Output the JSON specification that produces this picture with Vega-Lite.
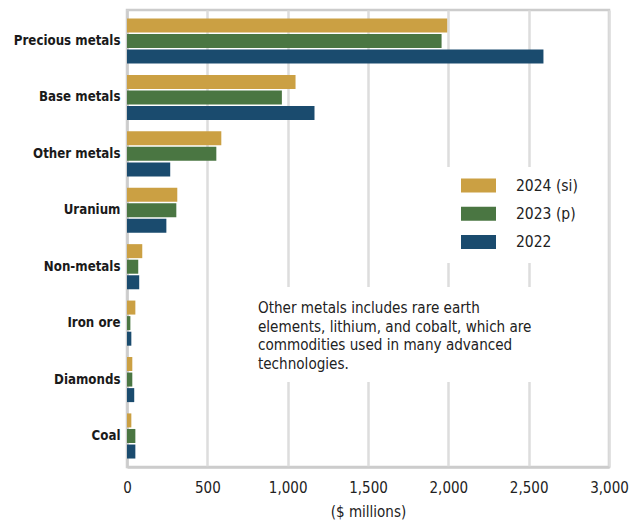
{
  "$schema": "https://vega.github.io/schema/vega-lite/v6.json",
  "width": 482,
  "height": 457,
  "autosize": {"type": "none"},
  "padding": {"left": 127, "top": 10, "right": 23, "bottom": 56},
  "background": "white",
  "config": {
    "view": {"stroke": "#cccccc", "strokeWidth": 2.5},
    "font": "DejaVu Sans Condensed, Roboto, sans-serif",
    "axis": {"gridColor": "#dddddd", "gridWidth": 2.5, "domainColor": "#cccccc", "domainWidth": 2.5, "ticks": false, "labelColor": "#222222", "titleColor": "#222222"}
  },
  "datasets": {
    "bars": [
      {"category": "Precious metals", "year": "2024 (si)", "value": 1993},
      {"category": "Precious metals", "year": "2023 (p)", "value": 1958},
      {"category": "Precious metals", "year": "2022", "value": 2592},
      {"category": "Base metals", "year": "2024 (si)", "value": 1049},
      {"category": "Base metals", "year": "2023 (p)", "value": 964},
      {"category": "Base metals", "year": "2022", "value": 1167},
      {"category": "Other metals", "year": "2024 (si)", "value": 587},
      {"category": "Other metals", "year": "2023 (p)", "value": 556},
      {"category": "Other metals", "year": "2022", "value": 269},
      {"category": "Uranium", "year": "2024 (si)", "value": 313},
      {"category": "Uranium", "year": "2023 (p)", "value": 307},
      {"category": "Uranium", "year": "2022", "value": 245},
      {"category": "Non-metals", "year": "2024 (si)", "value": 95},
      {"category": "Non-metals", "year": "2023 (p)", "value": 70},
      {"category": "Non-metals", "year": "2022", "value": 76},
      {"category": "Iron ore", "year": "2024 (si)", "value": 52},
      {"category": "Iron ore", "year": "2023 (p)", "value": 21},
      {"category": "Iron ore", "year": "2022", "value": 27},
      {"category": "Diamonds", "year": "2024 (si)", "value": 33},
      {"category": "Diamonds", "year": "2023 (p)", "value": 33},
      {"category": "Diamonds", "year": "2022", "value": 45},
      {"category": "Coal", "year": "2024 (si)", "value": 27},
      {"category": "Coal", "year": "2023 (p)", "value": 52},
      {"category": "Coal", "year": "2022", "value": 52}
    ],
    "note": [
      {"x": 815, "category": "Iron ore", "label": ["Other metals includes rare earth", "elements, lithium, and cobalt, which are", "commodities used in many advanced", "technologies."]}
    ],
    "box": [
      {"x1": 765, "x2": 2980, "top": "Non-metals", "bottom": "Diamonds"}
    ],
    "legendBox": [
      {"x1": 1975, "x2": 2980, "top": "Other metals", "bottom": "Non-metals"}
    ]
  },
  "layer": [
    {
      "data": {"name": "bars"},
      "mark": {"type": "bar"},
      "encoding": {
        "y": {
          "field": "category", "type": "nominal",
          "scale": {"domain": ["Precious metals", "Base metals", "Other metals", "Uranium", "Non-metals", "Iron ore", "Diamonds", "Coal"], "paddingInner": 0.2, "paddingOuter": 0.15},
          "axis": {"title": null, "labelFontWeight": "bold", "labelFontSize": 13.2, "labelPadding": 7, "labelColor": "#1a1a1a"}
        },
        "yOffset": {
          "field": "year", "type": "nominal",
          "scale": {"domain": ["2024 (si)", "2023 (p)", "2022"], "paddingInner": 0.1}
        },
        "x": {
          "field": "value", "type": "quantitative",
          "scale": {"domain": [0, 3000], "nice": false},
          "axis": {"title": "($ millions)", "values": [0, 500, 1000, 1500, 2000, 2500, 3000], "format": ",d", "labelFontSize": 15, "labelPadding": 13, "titleFontSize": 15, "titleFontWeight": "normal", "titlePadding": 9, "labelFlush": false}
        },
        "color": {
          "field": "year", "type": "nominal",
          "scale": {"domain": ["2024 (si)", "2023 (p)", "2022"], "range": ["#cba043", "#4a7642", "#1a4b6e"]},
          "legend": {
            "title": null, "orient": "none", "legendX": 334, "legendY": 158,
            "padding": 0,
            "symbolType": "M-1,-0.4H1V0.4H-1Z", "symbolSize": 1225, "symbolStrokeWidth": 0, "symbolOpacity": 1,
            "labelFontSize": 15.5, "labelOffset": 20, "labelColor": "#222222", "rowPadding": 2.3
          }
        }
      }
    },
    {
      "data": {"name": "legendBox"},
      "mark": {"type": "rect", "color": "white"},
      "encoding": {
        "x": {"field": "x1", "type": "quantitative"},
        "x2": {"field": "x2"},
        "y": {"field": "top", "type": "nominal", "bandPosition": 0.79},
        "y2": {"field": "bottom", "bandPosition": 0.42}
      }
    },
    {
      "data": {"name": "box"},
      "mark": {"type": "rect", "color": "white"},
      "encoding": {
        "x": {"field": "x1", "type": "quantitative"},
        "x2": {"field": "x2"},
        "y": {"field": "top", "type": "nominal", "bandPosition": 0.95},
        "y2": {"field": "bottom", "bandPosition": 0.554}
      }
    },
    {
      "data": {"name": "note"},
      "mark": {"type": "text", "align": "left", "baseline": "middle", "fontSize": 15.1, "lineHeight": 18.5, "color": "#222222", "dy": -15},
      "encoding": {
        "x": {"field": "x", "type": "quantitative"},
        "y": {"field": "category", "type": "nominal"},
        "text": {"field": "label"}
      }
    }
  ]
}
